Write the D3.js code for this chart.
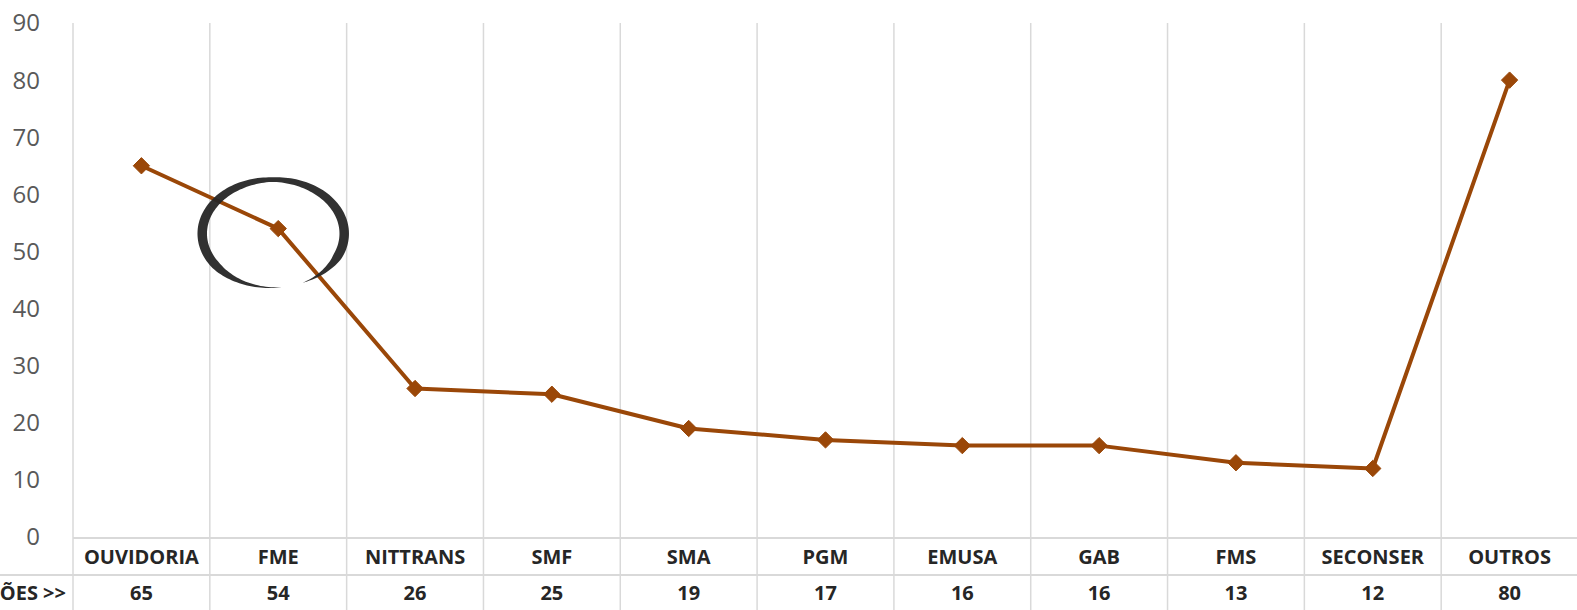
<!DOCTYPE html>
<html>
<head>
<meta charset="utf-8">
<script src="https://cdn.jsdelivr.net/npm/d3@7"></script>
<style>
  html, body { margin: 0; padding: 0; background: #fff; overflow: hidden; }
  svg { display: block; }
</style>
</head>
<body>
<div id="chart"></div>
<script>
const categories = ["OUVIDORIA", "FME", "NITTRANS", "SMF", "SMA", "PGM", "EMUSA", "GAB", "FMS", "SECONSER", "OUTROS"];
const values = [65, 54, 26, 25, 19, 17, 16, 16, 13, 12, 80];
const yTicks = [0, 10, 20, 30, 40, 50, 60, 70, 80, 90];
const rowLabel = "MANIFESTAÇÕES >>";
const circledCategory = "FME";

const W = 1577, H = 610;
const plotLeft = 73, plotRight = 1578, plotTop = 23, plotBottom = 537;
const row1 = 538, row2 = 575, row3 = 612;

const svg = d3.select("#chart")
    .append("svg")
    .attr("width", W)
    .attr("height", H);

const x = d3.scaleBand()
    .domain(categories)
    .range([plotLeft, plotRight])
    .padding(0);

const y = d3.scaleLinear()
    .domain([0, 90])
    .range([plotBottom, plotTop]);

const grid = "#d9d9d9";

// vertical lines (gridlines + table columns)
const edges = categories.map(c => x(c)).concat([x(categories[categories.length - 1]) + x.bandwidth()]);
svg.selectAll("line.vgrid")
    .data(edges)
    .join("line")
    .attr("class", "vgrid")
    .attr("x1", d => d).attr("x2", d => d)
    .attr("y1", plotTop).attr("y2", H)
    .attr("stroke", grid)
    .attr("stroke-width", 1.5);

// table horizontal lines
svg.append("line")
    .attr("x1", plotLeft).attr("x2", W)
    .attr("y1", row1).attr("y2", row1)
    .attr("stroke", grid).attr("stroke-width", 2);
svg.append("line")
    .attr("x1", 0).attr("x2", W)
    .attr("y1", row2).attr("y2", row2)
    .attr("stroke", grid).attr("stroke-width", 2);

// y axis labels
svg.selectAll("text.ytick")
    .data(yTicks)
    .join("text")
    .attr("class", "ytick")
    .attr("x", 40)
    .attr("y", d => y(d))
    .attr("dy", "0.35em")
    .attr("text-anchor", "end")
    .attr("font-family", "'Open Sans', sans-serif")
    .attr("font-size", 24)
    .attr("fill", "#595959")
    .text(d => d);

// table text
const cx = d => x(d) + x.bandwidth() / 2;
const tableFont = 20;
svg.selectAll("text.cat")
    .data(categories)
    .join("text")
    .attr("class", "cat")
    .attr("x", cx)
    .attr("y", (row1 + row2) / 2)
    .attr("dy", "0.36em")
    .attr("text-anchor", "middle")
    .attr("font-family", "'Open Sans', sans-serif")
    .attr("font-weight", "bold")
    .attr("font-size", tableFont)
    .attr("fill", "#262626")
    .text(d => d);

svg.selectAll("text.val")
    .data(values)
    .join("text")
    .attr("class", "val")
    .attr("x", (d, i) => cx(categories[i]))
    .attr("y", (row2 + row3) / 2 - 1)
    .attr("dy", "0.36em")
    .attr("text-anchor", "middle")
    .attr("font-family", "'Open Sans', sans-serif")
    .attr("font-weight", "bold")
    .attr("font-size", tableFont)
    .attr("fill", "#262626")
    .text(d => d);

svg.append("text")
    .attr("x", 66)
    .attr("y", (row2 + row3) / 2 - 1)
    .attr("dy", "0.36em")
    .attr("text-anchor", "end")
    .attr("font-family", "'Open Sans', sans-serif")
    .attr("font-weight", "bold")
    .attr("font-size", tableFont)
    .attr("fill", "#262626")
    .text(rowLabel);

// series line
const data = categories.map((c, i) => ({ c, v: values[i] }));
const lineColor = "#9a4708";

svg.append("path")
    .datum(data)
    .attr("fill", "none")
    .attr("stroke", lineColor)
    .attr("stroke-width", 4)
    .attr("stroke-linejoin", "round")
    .attr("d", d3.line().x(d => cx(d.c)).y(d => y(d.v)));

svg.selectAll("path.marker")
    .data(data)
    .join("path")
    .attr("class", "marker")
    .attr("transform", d => `translate(${cx(d.c)},${y(d.v)})`)
    .attr("d", d3.symbol(d3.symbolDiamond2, 170))
    .attr("fill", lineColor)
    .attr("stroke", lineColor)
    .attr("stroke-width", 1);

// hand-drawn circle around FME
const ptx = cx(circledCategory), pty = y(values[categories.indexOf(circledCategory)]);
const ecx = ptx - 5, ecy = pty + 5, rx = 71, ry = 54;
const t0 = 81 * Math.PI / 180, t1 = (66 + 360) * Math.PI / 180;
const n = 160;
const outer = [], inner = [];
for (let k = 0; k <= n; k++) {
    const s = k / n;
    const t = t0 + (t1 - t0) * s;
    const taper = Math.min(1, s / 0.18, (1 - s) / 0.12);
    const w = (4.5 + 5 * Math.abs(Math.cos(t))) * Math.max(0, taper);
    outer.push([ecx + (rx + w / 2) * Math.cos(t), ecy + (ry + w / 2) * Math.sin(t)]);
    inner.push([ecx + (rx - w / 2) * Math.cos(t), ecy + (ry - w / 2) * Math.sin(t)]);
}
svg.append("path")
    .attr("d", d3.line()(outer.concat(inner.reverse())) + "Z")
    .attr("fill", "#262626")
    .attr("opacity", 0.95);
</script>
</body>
</html>
